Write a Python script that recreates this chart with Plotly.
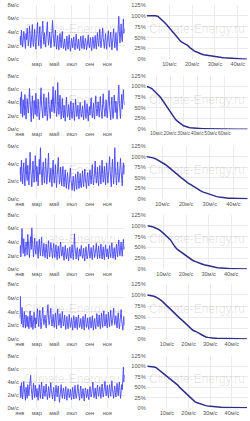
import plotly.graph_objects as go
import pandas as pd
from plotly.subplots import make_subplots

# ---------------- data ----------------
# daily wind speed (every 2nd day), m/s, for 6 stations
ts1 = [2.6,3.4,2.1,4.3,3.0,1.8,2.7,4.1,3.5,2.2,1.6,3.8,2.9,4.6,3.1,2.0,
       2.8,4.9,3.6,1.7,2.5,3.9,5.1,2.4,1.9,3.3,4.4,2.6,1.5,3.0,
       4.2,5.4,3.1,2.0,3.6,4.8,2.7,1.6,2.9,4.5,5.6,3.4,2.2,3.9,2.5,
       1.8,3.2,4.7,5.5,3.3,2.1,2.8,4.0,3.0,1.7,2.4,3.6,5.7,3.8,2.3,
       1.9,3.1,4.3,2.6,1.5,2.7,3.5,2.0,1.4,2.9,3.8,2.5,1.7,3.3,4.1,2.4,
       1.6,2.3,3.0,1.8,1.3,2.6,3.4,2.1,1.5,2.8,3.6,2.2,1.2,2.0,3.1,
       2.4,1.7,2.9,3.3,1.9,1.4,2.5,3.7,2.6,1.6,2.2,3.0,1.8,1.3,2.7,3.4,
       2.3,1.6,2.8,3.5,2.0,1.5,2.4,3.1,2.5,1.4,1.9,2.9,3.6,2.2,1.7,
       2.6,3.2,1.8,1.3,2.4,3.3,2.7,1.6,2.1,3.5,2.3,1.5,2.8,3.9,2.6,
       1.9,3.0,4.4,2.8,1.7,2.5,3.7,4.6,3.1,2.0,1.6,2.9,3.8,2.4,1.5,2.7,
       3.6,4.2,2.5,1.8,3.1,4.0,2.7,1.4,2.3,3.5,4.5,2.9,1.7,2.6,3.9,
       2.2,1.3,3.0,4.7,6.3,4.1,2.4,3.6,5.2,3.3,2.6,4.4,5.9,3.8,4.5]
ts2 = [3.5,4.8,2.3,5.6,3.9,1.8,4.4,3.0,2.1,5.2,3.7,1.5,2.9,4.6,3.2,2.4,
       3.8,6.1,4.2,2.0,1.1,3.5,5.0,2.7,1.6,4.3,3.1,2.2,5.4,3.3,
       1.9,2.8,4.5,3.0,1.4,2.6,4.9,6.2,3.6,2.3,1.7,3.9,5.3,2.9,2.0,
       3.4,4.7,2.5,1.3,2.8,5.5,3.7,2.1,1.6,3.2,4.4,2.6,3.9,6.4,3.1,
       2.4,4.1,5.8,3.3,1.9,2.7,7.0,4.3,2.2,3.5,5.1,2.8,1.5,3.0,4.6,2.3,
       1.7,3.6,2.5,1.2,2.9,4.8,3.1,1.8,2.3,3.7,2.6,1.4,3.3,4.2,2.1,
       1.6,2.8,3.9,2.4,1.3,2.7,4.5,3.2,1.9,2.5,3.6,2.0,1.5,3.1,4.0,2.6,
       1.8,2.4,3.5,2.2,1.4,3.0,4.3,2.7,1.6,2.9,3.8,2.3,1.2,2.6,3.4,
       2.1,3.3,4.7,2.8,1.7,2.5,3.9,2.2,1.5,3.6,5.0,3.1,2.0,2.7,4.1,
       2.9,1.8,3.4,4.9,3.0,2.2,1.6,3.8,5.3,3.5,2.4,1.9,3.2,4.4,2.6,1.7,
       3.1,4.5,5.8,3.4,2.3,1.4,3.6,4.8,2.7,1.6,3.0,5.1,3.8,2.5,4.2,
       2.8,1.5,3.3,5.5,6.6,3.9,2.4,1.6,3.7,5.2,3.0,4.6,5.9,4.3,3.6]
ts3 = [2.8,3.6,2.0,4.4,3.1,1.7,2.9,4.1,2.5,1.5,3.4,4.6,2.7,2.1,3.8,2.6,
       1.6,3.2,5.3,3.5,2.2,1.4,2.8,4.3,3.0,1.9,2.6,4.9,3.3,2.0,
       3.7,2.4,1.5,3.1,4.5,2.8,5.8,3.6,2.1,1.6,3.4,4.2,2.7,1.8,3.0,
       4.6,2.9,1.7,2.5,3.8,5.2,3.0,1.9,2.4,3.5,2.2,1.4,3.3,4.4,2.6,
       1.8,2.7,3.9,2.3,1.3,2.6,3.4,4.7,2.8,1.7,2.2,3.6,2.4,1.5,2.9,3.7,
       2.1,1.4,2.5,3.3,1.9,1.2,2.3,3.0,2.0,1.1,1.8,2.7,3.5,2.2,1.5,
       1.0,1.9,2.6,1.6,0.9,2.0,2.8,1.7,1.1,2.4,3.1,1.8,1.2,2.1,2.9,1.5,
       1.3,2.2,3.2,2.0,1.4,2.5,3.4,2.3,1.6,1.2,2.6,3.0,1.9,1.5,2.7,
       3.3,2.4,1.7,2.8,3.9,2.5,1.6,2.2,3.5,4.3,2.7,1.8,2.4,3.6,2.1,
       1.5,2.9,3.8,2.6,1.7,3.2,4.4,2.8,1.9,2.3,3.7,2.5,1.6,3.0,4.1,2.7,
       1.8,2.6,3.9,4.8,3.1,2.0,1.4,3.3,4.5,2.9,1.7,2.8,5.8,3.6,2.2,
       1.6,3.0,4.2,2.7,1.9,2.4,3.8,4.6,3.2,2.1,1.5,3.4,4.1,2.8,3.9]
ts4 = [2.4,3.5,1.8,4.2,6.0,3.7,2.3,4.5,3.1,1.9,2.8,4.0,3.3,2.1,5.1,3.4,
       2.6,1.7,3.9,4.8,2.9,6.1,4.3,2.5,1.8,3.2,4.6,3.0,2.2,3.6,
       4.1,2.7,1.6,3.3,4.4,2.8,2.0,3.5,4.7,3.0,1.9,2.6,3.8,2.4,1.7,
       2.9,3.7,2.3,1.5,3.1,4.2,2.6,1.8,2.7,3.9,3.2,2.0,1.6,3.0,3.8,
       2.5,1.7,2.9,3.6,2.2,1.4,2.7,3.4,2.3,1.6,3.2,4.0,2.8,1.9,2.4,3.3,
       2.0,1.3,2.6,3.5,2.4,1.5,2.2,3.1,1.9,1.2,2.5,3.3,2.1,1.6,2.8,
       3.6,2.3,1.4,2.7,5.2,3.4,2.0,1.5,2.6,3.2,2.1,1.3,2.4,3.0,1.9,2.8,
       3.5,2.2,1.6,2.3,3.1,1.8,1.2,2.5,3.3,2.4,1.5,2.0,2.9,3.7,2.3,
       1.6,2.4,3.2,2.1,1.4,2.7,3.5,2.6,1.7,2.2,3.0,3.8,2.5,1.5,2.6,
       3.4,2.3,1.6,2.9,3.7,2.4,1.5,2.6,3.3,2.0,1.4,2.8,3.6,2.5,1.8,3.0,
       2.2,1.5,2.7,3.5,2.4,1.7,3.1,3.9,2.6,1.6,2.3,3.2,2.1,1.4,2.8,
       3.7,2.5,1.8,3.4,4.3,2.8,2.0,3.1,4.0,2.7,1.9,3.6,4.4,2.9,3.3]
ts5 = [3.0,6.2,3.8,2.2,4.6,3.1,1.7,2.8,4.0,2.4,1.6,3.5,2.7,1.8,3.3,2.5,
       1.5,2.9,4.1,2.6,1.7,3.4,2.3,1.4,2.8,3.9,2.5,1.6,3.1,2.2,
       3.6,4.4,2.7,1.8,3.2,4.2,2.6,1.5,2.4,3.7,4.6,3.0,2.1,2.8,3.5,
       2.3,1.6,3.0,4.3,5.0,3.2,2.1,2.7,3.9,4.5,2.8,1.9,2.6,3.6,2.4,
       1.7,2.9,3.8,2.5,1.5,3.4,4.4,2.8,2.0,2.6,3.7,2.3,1.6,2.9,4.0,2.7,
       1.9,2.6,3.5,2.2,1.4,2.8,3.3,2.1,1.5,2.4,3.6,2.5,1.7,2.3,3.1,
       2.0,1.3,2.7,3.4,2.3,1.6,2.5,3.2,2.0,1.4,2.9,3.5,2.4,1.7,2.2,3.0,
       2.1,1.5,2.6,3.3,2.2,1.3,2.8,3.6,2.4,1.7,2.3,3.1,2.0,1.4,2.7,
       3.2,2.3,1.6,2.5,3.4,2.1,1.3,2.6,3.0,2.0,1.5,2.8,3.7,2.4,1.8,
       2.6,3.5,2.2,1.5,2.9,3.8,2.5,1.7,3.3,4.1,2.7,1.9,2.4,3.6,2.3,1.6,
       2.8,3.9,2.6,1.8,3.2,4.2,2.9,2.0,2.5,3.7,4.5,3.0,2.1,2.7,3.4,
       2.2,1.6,2.9,3.8,2.5,1.5,2.4,3.5,4.3,2.8,1.7,1.3,2.6,3.3,2.0]
ts6 = [2.2,3.4,1.6,3.9,2.8,1.4,2.5,4.1,3.0,1.8,1.2,3.2,2.4,1.5,3.6,2.7,
       1.9,3.3,4.4,5.0,3.1,2.0,1.3,2.9,3.8,2.4,1.6,3.5,2.6,1.7,
       3.0,2.1,1.2,2.7,3.6,2.3,1.5,3.1,4.0,2.6,1.4,2.2,3.4,2.5,1.8,
       2.8,3.7,2.4,1.3,2.0,3.3,2.6,1.6,2.9,3.9,2.7,1.9,1.4,2.5,3.2,
       2.1,1.1,2.4,3.5,2.6,1.7,2.9,3.4,2.0,0.9,1.8,2.8,3.6,2.3,1.5,2.6,
       3.1,2.2,1.4,2.5,3.3,2.0,1.2,2.3,3.0,2.4,1.6,2.1,2.9,1.8,1.3,
       2.4,3.2,2.1,1.4,2.6,3.5,2.3,1.5,2.0,2.8,3.6,2.5,1.7,1.2,2.7,3.4,
       2.2,1.5,2.5,3.0,1.9,1.1,2.3,3.1,2.6,1.6,2.0,2.9,1.8,1.3,2.4,
       3.3,2.5,1.7,2.2,3.4,4.0,2.6,1.6,2.3,3.1,2.0,1.4,2.7,3.5,2.4,
       1.8,2.6,3.3,2.2,1.5,2.9,3.7,2.5,1.7,2.4,3.2,4.1,2.8,1.9,2.6,3.5,
       2.3,1.6,2.8,3.6,2.5,1.8,3.0,4.2,2.9,2.0,1.5,2.7,3.4,2.4,1.7,
       2.9,3.8,2.6,1.9,3.3,4.0,2.7,1.5,2.4,3.6,2.8,4.4,6.3,4.0,5.1]
series = [ts1, ts2, ts3, ts4, ts5, ts6]

# exceedance curves: speed bins and percent of time exceeded
ex1_x = list(range(0, 45))
ex1_y = [100,100,100,100,99.5,98,94,89,84,78,72,66,60,54,46,41,38,35,32,27,22,19,17,14,
         12.5,11,10,9,8,7,6,5.5,5,4.5,4,3.6,3.2,2.9,2.5,2.1,1.7,1.4,1.1,0.9,0.6]
ex2_x = list(range(3, 49)) + [50, 55, 60, 65, 70, 77]
ex2_y = [100,99,98,96,94,91,88,85,82,78,75,70,65,61,56,51,45,40,35,31,27,23,20,17,14,12,10,8,
         6.5,5.5,4.5,3.8,3.2,2.8,2.4,2.1,1.9,1.7,1.5,1.3,1.2,1.1,1.0,0.9,0.9,0.8,
         0.7,0.5,0.3,0.2,0.1,0]
ex3_x = list(range(3, 47))
ex3_y = [100,99.5,98.5,97,95,92,89,86,82,78,73,69,64,59,55,50,46,41,37,34,30,27,23,20,17,15,
         13,11,9,7.5,6,5,4,3.3,2.8,2.3,2,1.7,1.4,1.2,1,0.9,0.8,0.7]
ex4_x = list(range(3, 48))
ex4_y = [100,99.5,98,96,94,91,87,83,78,73,68,59,52,46,42,38,34,30,27,23,20,18,15.5,13.5,12,
         10,8.5,7,5.8,5,4.2,3.5,2.8,2.3,1.9,1.6,1.3,1.1,0.9,0.7,0.5,0.4,0.3,0.2,0.1]
ex5_x = list(range(1, 48))
ex5_y = [100,99.5,98.5,97,95,92.5,89,85,80,75,70,65,60,56,51,47,43,38,33,28,23,20,18,16,13,
         10,7,5,4,3,2.3,2,1.8,1.6,1.5,1.4,1.3,1.2,1.1,1,0.9,0.9,0.8,0.8,0.7,0.7,0.6]
ex6_x = list(range(1, 48))
ex6_y = [100,100,100,98.5,97,93,89,84,80,76,72,68,65,60,55,49,44,39,34,30,26,21,15,13,11,9,
         7.5,6,5,4.3,3.7,3.1,2.7,2.3,2,1.8,1.6,1.4,1.3,1.2,1.1,1,0.9,0.9,0.8,0.8,0.7]
ex_x = [ex1_x, ex2_x, ex3_x, ex4_x, ex5_x, ex6_x]
ex_y = [ex1_y, ex2_y, ex3_y, ex4_y, ex5_y, ex6_y]

month_vals = ["2023-01-01", "2023-03-01", "2023-05-01", "2023-07-01", "2023-09-01", "2023-11-01"]
month_text = ["янв", "мар", "май", "июл", "сен", "ноя"]
pct_vals = [0, 25, 50, 75, 100, 125]
pct_text = ["0%", "25%", "50%", "75%", "100%", "125%"]
spd_ticks = [[10, 20, 30, 40], [10, 20, 30, 40, 50, 60], [10, 20, 30, 40],
             [10, 20, 30, 40], [10, 20, 30, 40], [10, 20, 30, 40]]
ymax_left = [8, 8, 6, 8, 8, 8]
xrange_right = [[0, 44.5], [2.8, 77.4], [3.3, 46.2], [2.5, 47.5], [0.6, 47.5], [0.6, 47.5]]

# ---------------- layout ----------------
W, H = 250, 421
tops = [1.7, 73.8, 145, 215, 285, 358]
bots = [57.3, 128, 199, 270, 341, 411]
LX = [15, 122]
RX = [144.5, 248]

fig = make_subplots(rows=6, cols=2)
font = dict(family="Liberation Sans, Arial", size=5.6, color="#555555")
font_small = dict(family="Liberation Sans, Arial", size=5.0, color="#555555")
grid = "#ebebeb"
for r in range(6):
    vals = series[r]
    dates = pd.date_range("2023-01-01", periods=len(vals), freq="2D")
    fig.add_trace(go.Scatter(x=dates, y=vals, mode="lines",
                             line=dict(color="rgb(70,70,245)", width=0.9),
                             hoverinfo="skip"), row=r + 1, col=1)
    fig.add_trace(go.Scatter(x=ex_x[r], y=ex_y[r], mode="lines",
                             line=dict(color="#2e2e8a", width=1.5),
                             hoverinfo="skip"), row=r + 1, col=2)
    nl = 2 * r + 1
    nr = 2 * r + 2
    ydom = [1 - bots[r] / H, 1 - tops[r] / H]
    ym = ymax_left[r]
    yv = list(range(0, ym + 1, 2))
    mv = month_vals[1:] if r == 0 else month_vals
    mt = month_text[1:] if r == 0 else month_text
    common = dict(showgrid=True, gridcolor=grid, gridwidth=1, zeroline=False,
                  showline=False, ticks="", tickangle=0)
    fig.layout["xaxis" + ("" if nl == 1 else str(nl))].update(
        domain=[LX[0] / W, LX[1] / W], range=["2023-01-01", "2023-12-31"],
        tickvals=mv, ticktext=mt, tickfont=font, **common)
    fig.layout["yaxis" + ("" if nl == 1 else str(nl))].update(
        domain=ydom, range=[0, ym], tickvals=yv, ticktext=[f"{v}м/с" for v in yv],
        tickfont=font, **common)
    fig.layout["xaxis" + str(nr)].update(
        domain=[RX[0] / W, RX[1] / W], range=xrange_right[r],
        tickvals=spd_ticks[r], ticktext=[f"{v}м/с" for v in spd_ticks[r]],
        tickfont=(font_small if r == 1 else font), **common)
    fig.layout["yaxis" + str(nr)].update(
        domain=ydom, range=[0, 125], tickvals=pct_vals, ticktext=pct_text,
        tickfont=font, **common)
    for n in (nl, nr):
        ax = "x" if n == 1 else f"x{n}"
        ay = "y" if n == 1 else f"y{n}"
        fig.add_annotation(text="Climate-Energy.ru", x=0.5, y=0.55,
                           xref=f"{ax} domain", yref=f"{ay} domain",
                           showarrow=False,
                           font=dict(family="Liberation Sans, Arial", size=12,
                                     color="rgba(0,0,0,0.11)"))

fig.update_layout(width=W, height=H, margin=dict(l=0, r=0, t=0, b=0),
                  paper_bgcolor="white", plot_bgcolor="white", showlegend=False)
fig.write_html("out.html")
